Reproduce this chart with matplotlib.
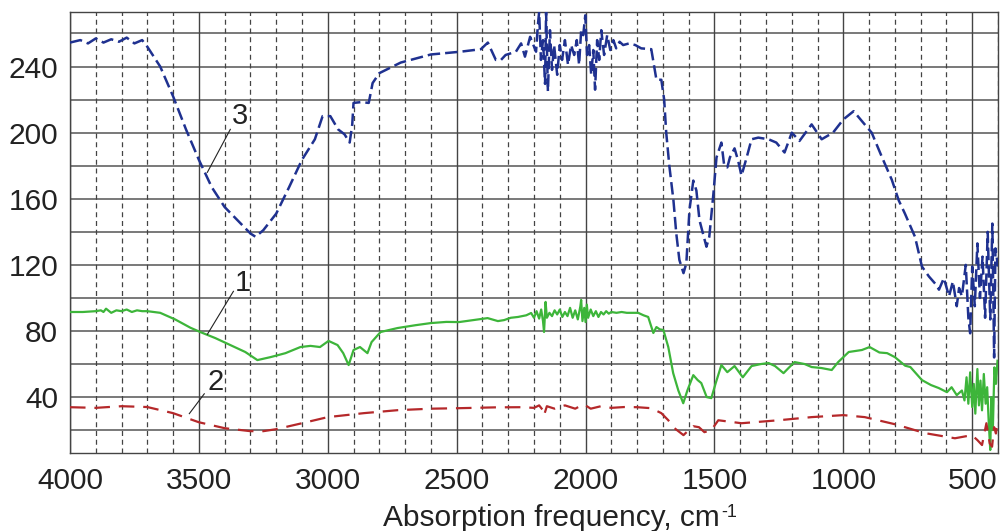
import matplotlib
matplotlib.use("Agg")
import matplotlib.pyplot as plt

plt.rcParams['font.family'] = ['Liberation Sans', 'DejaVu Sans']

# curve 1 (green, solid): (wavenumber, value)
curve1 = [(4000, 91.5), (3950, 91.5), (3900, 92.0), (3880, 92.5), (3870, 91.5), (3860, 93.5),
          (3840, 91.0), (3820, 92.5), (3800, 92.0), (3780, 93.0), (3760, 91.5), (3740, 92.5),
          (3720, 92.0), (3700, 92.0), (3650, 91.0), (3592, 87.0), (3533, 82.0), (3495, 79.4),
          (3436, 75.7), (3378, 71.5), (3320, 67.3), (3273, 62.4), (3222, 64.2), (3164, 66.6),
          (3106, 70.3), (3067, 71.0), (3030, 70.3), (2997, 74.0), (2962, 71.5), (2940, 66.6),
          (2919, 59.4), (2900, 68.5), (2875, 70.3), (2846, 66.6), (2830, 73.3), (2795, 79.4),
          (2729, 81.8), (2660, 83.5), (2600, 84.8), (2540, 85.5), (2491, 85.4), (2440, 86.5),
          (2380, 87.8), (2340, 86.0), (2316, 86.6), (2290, 88.0), (2262, 88.5), (2230, 89.5),
          (2211, 90.9), (2200, 88.0), (2190, 92.0), (2180, 87.5), (2172, 93.0), (2165, 86.0),
          (2161, 79.4), (2155, 97.6), (2150, 88.0), (2140, 91.0), (2130, 89.0), (2120, 92.5),
          (2110, 90.0), (2100, 93.0), (2090, 88.5), (2080, 91.5), (2070, 89.0), (2060, 94.0),
          (2050, 88.0), (2040, 92.5), (2030, 87.0), (2020, 95.0), (2017, 98.8), (2012, 86.0),
          (2005, 94.0), (2000, 85.4), (1995, 96.0), (1990, 88.0), (1980, 93.0), (1970, 89.0),
          (1960, 92.0), (1950, 88.5), (1940, 91.5), (1930, 90.0), (1920, 92.0), (1910, 90.5),
          (1900, 91.5), (1880, 91.0), (1860, 91.5), (1840, 91.0), (1820, 91.0), (1796, 91.0),
          (1775, 89.5), (1757, 88.5), (1737, 78.8), (1725, 82.4), (1712, 81.0), (1698, 80.6),
          (1679, 70.3), (1660, 54.5), (1640, 44.0), (1621, 36.3), (1605, 44.0), (1582, 53.3),
          (1565, 50.3), (1551, 48.5), (1530, 40.0), (1512, 39.4), (1495, 48.5), (1473, 59.4),
          (1450, 55.1), (1422, 58.8), (1390, 52.0), (1356, 58.8), (1320, 60.0), (1290, 60.6),
          (1265, 58.8), (1232, 54.5), (1210, 58.0), (1189, 61.2), (1150, 60.0), (1123, 58.2),
          (1085, 57.6), (1045, 56.4), (1020, 61.2), (979, 67.3), (950, 68.0), (928, 68.5),
          (898, 70.3), (860, 67.0), (830, 66.6), (800, 64.2), (760, 59.0), (740, 58.2),
          (695, 50.3), (660, 47.3), (630, 45.5), (598, 43.0), (580, 46.0), (560, 41.2),
          (540, 44.0), (530, 38.0), (522, 52.0), (515, 36.0), (508, 55.0), (500, 34.0),
          (494, 48.0), (488, 30.0), (480, 57.0), (474, 35.0), (468, 50.0), (462, 32.0),
          (455, 54.0), (448, 36.0), (442, 46.0), (436, 25.0), (430, 8.0), (426, 40.0),
          (420, 20.0), (414, 58.0), (408, 48.0), (402, 62.0)]

# curve 2 (red, dashed)
curve2 = [(4000, 33.9), (3900, 33.5), (3800, 34.5), (3700, 34.0), (3600, 30.3), (3500, 24.8),
          (3400, 21.2), (3300, 19.4), (3250, 19.4), (3200, 20.6), (3100, 24.2), (3000, 27.9),
          (2860, 30.3), (2729, 32.1), (2600, 33.0), (2491, 33.3), (2350, 33.8), (2250, 33.9),
          (2200, 33.5), (2180, 35.0), (2165, 32.0), (2161, 29.0), (2150, 34.5), (2120, 33.0),
          (2080, 35.0), (2040, 33.0), (2010, 35.5), (2000, 35.0), (1980, 33.0), (1940, 34.5),
          (1900, 33.5), (1850, 34.0), (1800, 33.9), (1745, 33.3), (1706, 30.3), (1679, 26.0),
          (1655, 21.2), (1620, 17.0), (1600, 20.0), (1582, 22.4), (1560, 21.8), (1539, 18.8),
          (1512, 20.0), (1485, 26.0), (1395, 24.2), (1251, 26.0), (1123, 27.9), (1000, 29.1),
          (917, 27.9), (800, 23.6), (683, 18.2), (567, 15.1), (501, 17.0), (480, 14.0),
          (462, 11.0), (445, 24.2), (432, 12.0), (423, 10.0), (415, 21.8), (408, 18.0),
          (402, 26.0)]

# curve 3 (blue, dashed)
curve3 = [(4000, 254.5), (3960, 256.0), (3930, 254.0), (3900, 257.0), (3870, 254.5),
          (3840, 256.5), (3810, 255.0), (3780, 257.5), (3750, 254.0), (3720, 256.0),
          (3700, 252.0), (3650, 240.0), (3600, 222.0), (3550, 202.0), (3500, 183.6),
          (3450, 167.0), (3400, 155.0), (3350, 147.0), (3300, 139.0), (3280, 137.0),
          (3250, 141.0), (3200, 151.0), (3150, 167.0), (3100, 183.6), (3050, 196.0),
          (3020, 210.0), (2990, 210.0), (2960, 202.0), (2935, 199.0), (2915, 194.0),
          (2905, 205.0), (2900, 218.0), (2870, 218.5), (2841, 218.0), (2826, 230.0),
          (2800, 236.0), (2717, 242.4), (2600, 247.3), (2484, 249.0), (2406, 250.5),
          (2379, 254.5), (2348, 244.0), (2328, 244.0), (2310, 247.0), (2270, 249.0),
          (2250, 254.0), (2235, 246.0), (2215, 258.0), (2192, 249.0), (2185, 265.0),
          (2180, 273.0), (2173, 244.0), (2165, 256.0), (2157, 229.5), (2153, 273.0),
          (2146, 225.0), (2138, 262.0), (2130, 238.0), (2122, 253.0), (2110, 235.0),
          (2100, 253.0), (2091, 244.0), (2080, 256.0), (2068, 241.0), (2056, 253.0),
          (2044, 247.0), (2034, 256.0), (2025, 241.0), (2017, 262.0), (2009, 259.0),
          (2001, 271.0), (1994, 247.0), (1986, 253.0), (1978, 235.0), (1970, 250.0),
          (1963, 226.0), (1955, 256.0), (1947, 244.0), (1939, 262.0), (1928, 247.0),
          (1916, 259.0), (1904, 250.0), (1892, 256.0), (1881, 251.0), (1868, 255.0),
          (1854, 253.0), (1831, 254.0), (1807, 253.0), (1784, 251.0), (1745, 250.5),
          (1725, 232.0), (1706, 232.0), (1695, 220.0), (1687, 200.0), (1675, 180.0),
          (1659, 159.0), (1648, 139.0), (1636, 123.0), (1620, 115.0), (1609, 121.0),
          (1597, 153.0), (1582, 171.0), (1570, 165.0), (1558, 147.0), (1531, 131.0),
          (1520, 137.0), (1504, 163.0), (1492, 185.0), (1473, 194.0), (1462, 180.0),
          (1450, 179.0), (1440, 185.0), (1422, 190.5), (1408, 183.0), (1395, 174.0),
          (1375, 185.0), (1356, 196.0), (1330, 197.0), (1290, 196.0), (1260, 194.0),
          (1228, 188.0), (1200, 200.0), (1170, 195.0), (1123, 205.0), (1084, 196.0),
          (1040, 200.0), (1000, 208.0), (960, 213.0), (928, 207.0), (890, 200.0),
          (851, 185.5), (812, 171.5), (785, 159.0), (761, 151.0), (722, 137.0), (695, 119.0),
          (668, 113.0), (640, 108.0), (629, 105.0), (610, 112.0), (590, 101.0), (575, 110.0),
          (560, 95.0), (551, 106.0), (540, 101.0), (525, 120.0), (515, 88.0), (508, 78.6),
          (500, 119.0), (490, 95.0), (480, 133.0), (470, 100.0), (460, 125.0), (450, 88.0),
          (440, 140.0), (430, 87.0), (422, 145.0), (415, 64.0), (410, 130.0), (400, 119.0)]

wn1, v1 = zip(*curve1)
wn2, v2 = zip(*curve2)
wn3, v3 = zip(*curve3)

label_pos = {'3': (3339, 210), '1': (3331, 109), '2': (3436, 49)}
leaders = {'3': ((3378, 202), (3467, 176)),
           '1': ((3366, 104), (3467, 78)),
           '2': ((3479, 42), (3537, 30))}

W, H = 1001, 531
fig = plt.figure(figsize=(W / 100, H / 100), dpi=100)
ax = fig.add_axes([0.0699, 0.1463, 0.9271, 0.8311])

# grid
for y in range(20, 280, 20):
    ax.axhline(y, color='#555555', lw=1.1, zorder=1)
for x in range(400, 4001, 100):
    if x % 500 == 0:
        ax.axvline(x, color='#444444', lw=1.0, zorder=1)
    else:
        ax.axvline(x, color='#444444', lw=0.9, ls=(0, (4, 3)), zorder=1)

ax.plot(wn1, v1, color='#3db53a', lw=1.6, zorder=3)
ax.plot(wn2, v2, color='#b5282a', lw=1.6, ls=(0, (7, 4)), zorder=3)
ax.plot(wn3, v3, color='#1f3190', lw=1.8, ls=(0, (5, 2)), zorder=3)

for k, (x, y) in label_pos.items():
    ax.text(x, y, k, fontsize=21, ha='center', va='center', color='#222222', zorder=4)
for k, (p0, p1) in leaders.items():
    ax.plot([p0[0], p1[0]], [p0[1], p1[1]], color='#222222', lw=0.8, zorder=4)

ax.set_xlim(4000, 400)
ax.set_ylim(6, 273)
ax.set_xticks(range(4000, 499, -500))
ax.set_yticks(range(40, 241, 40))
ax.tick_params(length=0, labelsize=21.5, colors='#222222')
ax.tick_params(axis='x', pad=10)
ax.tick_params(axis='y', pad=8.5)
for s in ax.spines.values():
    s.set_color('#444444')
    s.set_linewidth(1.0)

# x axis title with a small "-1" superscript
t = fig.text(383 / W, 1 - 526 / H, 'Absorption frequency, cm', fontsize=21.5,
             ha='left', va='baseline', color='#222222')
fig.canvas.draw()
bb = t.get_window_extent()
fig.text((bb.x1 + 1) / W, 1 - 517 / H, '-1', fontsize=13, ha='left', va='baseline',
         color='#222222')

fig.savefig('out.png', dpi=100)
